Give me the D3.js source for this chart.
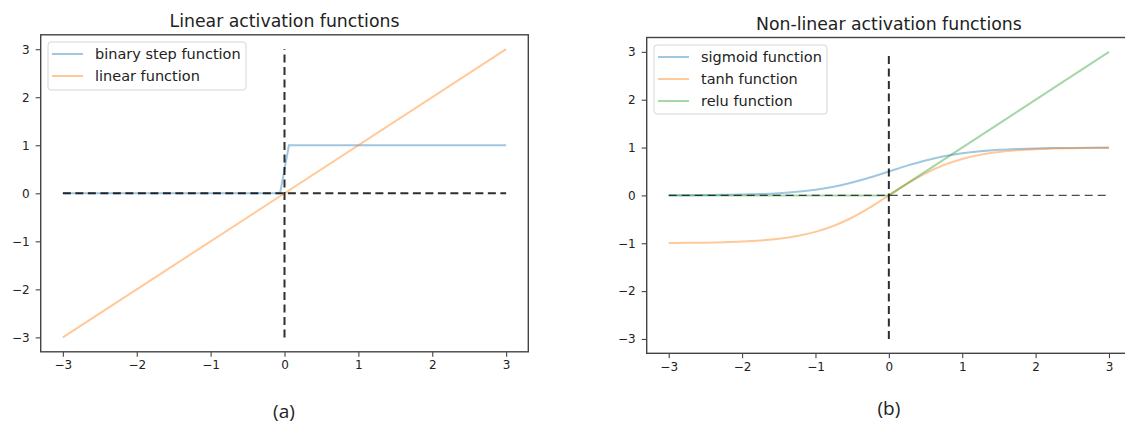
<!DOCTYPE html>
<html>
<head>
<meta charset="utf-8">
<script src="https://cdn.jsdelivr.net/npm/d3@7"></script>
<style>
  body { margin: 0; background: #fff; }
  svg { display: block; font-family: "DejaVu Sans", sans-serif; }
  .tick text { fill: #222; }
</style>
</head>
<body>
<svg width="1125" height="425"></svg>
<script>
// values
const ticks = [-3, -2, -1, 0, 1, 2, 3]

const stepX = [-3, -0.06, 0.06, 3]
const stepY = [0, 0, 1, 1]
const linearX = [-3, 3]
const linearY = [-3, 3]

const curveX = [-3, -2.75, -2.5, -2.25, -2, -1.75, -1.5, -1.25, -1, -0.75, -0.5, -0.25, 0,
  0.25, 0.5, 0.75, 1, 1.25, 1.5, 1.75, 2, 2.25, 2.5, 2.75, 3]
const sigmoidY = [0.002, 0.004, 0.007, 0.011, 0.018, 0.029, 0.047, 0.076, 0.119, 0.182, 0.269, 0.378, 0.5,
  0.622, 0.731, 0.818, 0.881, 0.924, 0.953, 0.971, 0.982, 0.989, 0.993, 0.996, 0.998]
const tanhY = [-0.995, -0.992, -0.987, -0.978, -0.964, -0.941, -0.905, -0.848, -0.762, -0.635, -0.462, -0.245, 0,
  0.245, 0.462, 0.635, 0.762, 0.848, 0.905, 0.941, 0.964, 0.978, 0.987, 0.992, 0.995]
const reluX = [-3, 0, 3]
const reluY = [0, 0, 3]

const hLineX = [-3, 3], hLineY = [0, 0]
const vLineX = [0, 0], vLineY = [-3, 3]

const leftLabels = ["binary step function", "linear function"]
const rightLabels = ["sigmoid function", "tanh function", "relu function"]

const blue = "#1f77b4", orange = "#ff7f0e", green = "#2ca02c"

const svg = d3.select("svg")
svg.append("rect").attr("width", 1125).attr("height", 425).attr("fill", "#fff")

function zip(xs, ys) { return xs.map((x, i) => [x, ys[i]]) }

function panel(opt) {
  var x = d3.scaleLinear().domain([-3.3, 3.3]).range([opt.left, opt.right])
  var y = d3.scaleLinear().domain([-3.3, 3.3]).range([opt.bottom, opt.top])
  var g = svg.append("g")

  var line = d3.line().x(d => x(d[0])).y(d => y(d[1]))
  var smooth = d3.line().x(d => x(d[0])).y(d => y(d[1])).curve(d3.curveMonotoneX)

  opt.series.forEach(s => {
    g.append("path").datum(zip(s.x, s.y))
      .attr("d", s.smooth ? smooth : line)
      .attr("fill", "none").attr("stroke", s.color)
      .attr("stroke-opacity", 0.42).attr("stroke-width", 2)
  })

  // reference dashed lines
  g.append("path").datum(zip(hLineX, hLineY)).attr("d", line)
    .attr("fill", "none").attr("stroke", "#000").attr("stroke-opacity", opt.hThin ? 0.7 : 0.82)
    .attr("stroke-width", opt.hThin ? 1.1 : 2).attr("stroke-dasharray", opt.hThin ? "8,5" : "8,4.5")
  g.append("path").datum(zip(vLineX, vLineY)).attr("d", line)
    .attr("fill", "none").attr("stroke", "#000").attr("stroke-opacity", 0.82)
    .attr("stroke-width", 2).attr("stroke-dasharray", "8,4.5")

  // axes
  var fmt = d3.format("d")
  var xa = g.append("g").attr("transform", "translate(0," + opt.bottom + ")")
    .call(d3.axisBottom(x).tickValues(ticks).tickFormat(fmt).tickSize(5).tickPadding(4).tickSizeOuter(0))
  var ya = g.append("g").attr("transform", "translate(" + opt.left + ",0)")
    .call(d3.axisLeft(y).tickValues(ticks).tickFormat(fmt).tickSize(5).tickPadding(6).tickSizeOuter(0))
  ;[xa, ya].forEach(a => {
    a.select(".domain").remove()
    a.selectAll(".tick line").attr("stroke", "#444").attr("stroke-width", 1.1)
    a.selectAll(".tick text").style("font-size", "12px").style("font-family", "DejaVu Sans")
  })

  g.append("rect").attr("x", opt.left).attr("y", opt.top)
    .attr("width", opt.right - opt.left).attr("height", opt.bottom - opt.top)
    .attr("fill", "none").attr("stroke", "#444").attr("stroke-width", 1.4)

  g.append("text").attr("x", (opt.left + opt.right) / 2).attr("y", opt.titleY)
    .attr("text-anchor", "middle").style("font-size", "17.3px").attr("fill", "#222")
    .text(opt.title)

  // legend
  var lg = g.append("g")
  lg.append("rect").attr("x", opt.legend.x).attr("y", opt.legend.y)
    .attr("width", opt.legend.w).attr("height", opt.legend.h).attr("rx", 3)
    .attr("fill", "#fff").attr("fill-opacity", 0.8).attr("stroke", "#d6d6d6")
  opt.labels.forEach((lab, i) => {
    var yy = opt.legend.y + 12 + i * 22
    lg.append("line").attr("x1", opt.legend.x + 4).attr("x2", opt.legend.x + 35)
      .attr("y1", yy).attr("y2", yy).attr("stroke", opt.series[i].color)
      .attr("stroke-opacity", 0.42).attr("stroke-width", 2)
    lg.append("text").attr("x", opt.legend.x + 47).attr("y", yy)
      .attr("dy", "0.35em").style("font-size", "14.5px").attr("fill", "#222").text(lab)
  })

  svg.append("text").attr("x", (opt.left + opt.right) / 2 - (opt.capShift || 0)).attr("y", opt.capY)
    .attr("text-anchor", "middle").style("font-family", "Open Sans").style("font-size", "19px")
    .attr("fill", "#222").text(opt.caption)
}

panel({
  left: 40.7, right: 528.3, top: 34.8, bottom: 351.8,
  title: "Linear activation functions", titleY: 27,
  series: [
    {x: stepX, y: stepY, color: blue},
    {x: linearX, y: linearY, color: orange}
  ],
  labels: leftLabels,
  legend: {x: 48, y: 42, w: 198, h: 48},
  caption: "(a)", capY: 418, capShift: 0.5
})

panel({
  left: 646.7, right: 1131, top: 37.5, bottom: 353.3,
  title: "Non-linear activation functions", titleY: 30,
  series: [
    {x: curveX, y: sigmoidY, color: blue, smooth: true},
    {x: curveX, y: tanhY, color: orange, smooth: true},
    {x: reluX, y: reluY, color: green}
  ],
  hThin: true,
  labels: rightLabels,
  legend: {x: 654, y: 45, w: 173, h: 69},
  caption: "(b)", capY: 415
})
</script>
</body>
</html>
